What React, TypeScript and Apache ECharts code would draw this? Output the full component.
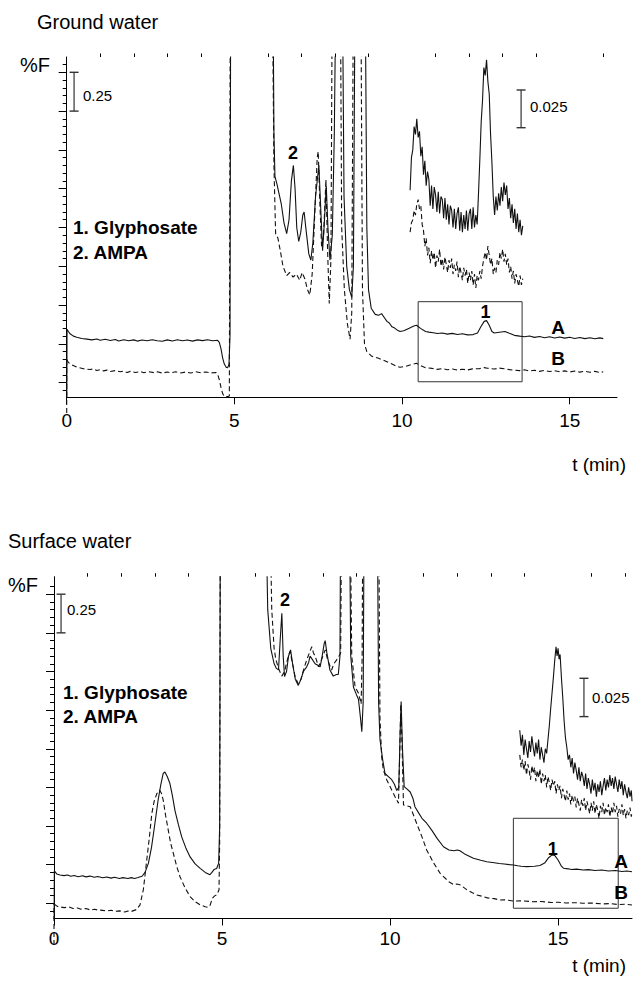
import React, { useEffect, useRef } from "react";
import * as echarts from "echarts";

const FONT = '"Liberation Sans", Arial, Helvetica, sans-serif';

// ---------- tick values ----------
const xMajorTicks = [0, 5, 10, 15];
const xMinorTicksTop = [1, 2, 3, 4, 6, 7, 8, 9, 11, 12, 13, 14, 16];
const xMinorTicksBottom = [1, 2, 3, 4, 6, 7, 8, 9, 11, 12, 13, 14, 16, 17];
const yMajorTicks = [0, 0.25, 0.5, 0.75, 1.0, 1.25, 1.5, 1.75, 2.0];
const yMinorTicks = [
  -0.05, 0.05, 0.1, 0.15, 0.2, 0.3, 0.35, 0.4, 0.45, 0.55, 0.6, 0.65, 0.7,
  0.8, 0.85, 0.9, 0.95, 1.05, 1.1, 1.15, 1.2, 1.3, 1.35, 1.4, 1.45, 1.55,
  1.6, 1.65, 1.7, 1.8, 1.85, 1.9, 1.95, 2.05,
];

// ---------- Ground water (top) ----------
const gwA: [number, number][] = [
  [0, -0.3], [0.01, 0.345], [0.05, 0.33], [0.1, 0.315], [0.2, 0.3], [0.3, 0.293], [0.45, 0.285],
  [0.6, 0.281], [0.75, 0.276], [0.9, 0.282], [1.0, 0.274], [1.15, 0.28], [1.3, 0.272], [1.45, 0.278],
  [1.55, 0.269], [1.7, 0.277], [1.85, 0.27], [2.0, 0.276], [2.1, 0.268], [2.25, 0.275], [2.4, 0.27],
  [2.55, 0.277], [2.7, 0.27], [2.85, 0.267], [3.0, 0.276], [3.15, 0.269], [3.3, 0.277], [3.45, 0.27],
  [3.6, 0.275], [3.75, 0.268], [3.9, 0.276], [4.05, 0.271], [4.2, 0.277], [4.35, 0.27], [4.5, 0.273],
  [4.55, 0.26], [4.6, 0.22], [4.65, 0.16], [4.7, 0.12], [4.76, 0.098], [4.8, 0.097], [4.84, 0.12],
  [4.87, 0.3], [4.89, 2.6], [6.15, 2.6], [6.18, 1.6], [6.21, 1.33], [6.27, 1.28], [6.33, 1.22],
  [6.4, 1.15], [6.48, 1.03], [6.56, 0.96], [6.63, 1.05], [6.7, 1.3], [6.76, 1.4], [6.81, 1.25],
  [6.86, 1.0], [6.92, 0.91], [6.98, 0.97], [7.04, 1.08], [7.08, 1.1], [7.14, 0.98], [7.22, 0.83],
  [7.28, 0.79], [7.34, 0.9], [7.42, 1.2], [7.52, 1.4], [7.57, 1.15], [7.63, 0.85], [7.68, 1.02],
  [7.74, 1.27], [7.79, 1.0], [7.85, 0.79], [7.92, 0.95], [7.98, 1.6], [8.03, 2.6], [8.22, 2.6],
  [8.27, 1.2], [8.35, 0.75], [8.43, 0.6], [8.5, 0.55], [8.55, 0.75], [8.6, 2.6], [8.9, 2.6],
  [8.95, 1.0], [9.0, 0.6], [9.08, 0.48], [9.2, 0.44], [9.3, 0.435], [9.39, 0.445], [9.47, 0.42],
  [9.55, 0.395], [9.62, 0.385], [9.7, 0.36], [9.78, 0.352], [9.85, 0.34], [9.94, 0.33], [10.05, 0.335],
  [10.2, 0.35], [10.35, 0.365], [10.43, 0.37], [10.55, 0.35], [10.7, 0.33], [10.8, 0.326],
  [10.93, 0.322], [11.05, 0.317], [11.2, 0.32], [11.35, 0.313], [11.5, 0.318], [11.65, 0.311],
  [11.8, 0.315], [11.95, 0.308], [12.12, 0.31], [12.25, 0.32], [12.35, 0.36], [12.45, 0.395],
  [12.52, 0.4], [12.6, 0.37], [12.68, 0.33], [12.75, 0.32], [12.9, 0.325], [13.07, 0.33],
  [13.2, 0.318], [13.35, 0.305], [13.51, 0.3], [13.65, 0.296], [13.8, 0.301], [13.95, 0.292],
  [14.1, 0.298], [14.25, 0.29], [14.4, 0.296], [14.55, 0.288], [14.7, 0.294], [14.85, 0.287],
  [15.0, 0.293], [15.15, 0.285], [15.3, 0.291], [15.45, 0.284], [15.6, 0.29], [15.75, 0.283],
  [15.9, 0.289], [16.0, 0.284],
];
const gwBStart: [number, number][] = [[0, -0.195], [0, 0.15]];
const gwB: [number, number][] = [
  [0, 0.15], [0.05, 0.13], [0.15, 0.115], [0.3, 0.1], [0.5, 0.09], [0.7, 0.085], [0.8, 0.089],
  [0.9, 0.078], [1.0, 0.084], [1.1, 0.076], [1.2, 0.081], [1.3, 0.072], [1.45, 0.078], [1.6, 0.07],
  [1.7, 0.075], [1.8, 0.066], [1.9, 0.073], [2.05, 0.066], [2.2, 0.072], [2.3, 0.064], [2.45, 0.071],
  [2.6, 0.065], [2.7, 0.07], [2.85, 0.062], [3.0, 0.069], [3.1, 0.064], [3.25, 0.07], [3.4, 0.063],
  [3.55, 0.069], [3.7, 0.062], [3.85, 0.07], [4.0, 0.064], [4.15, 0.069], [4.3, 0.063], [4.45, 0.066],
  [4.5, 0.055], [4.55, 0.02], [4.6, -0.03], [4.65, -0.07], [4.7, -0.088], [4.8, -0.09], [4.85, -0.085],
  [4.88, 2.6], [6.13, 2.6], [6.18, 1.4], [6.23, 0.96], [6.3, 0.93], [6.37, 0.85], [6.45, 0.75],
  [6.56, 0.69], [6.65, 0.71], [6.75, 0.68], [6.85, 0.7], [6.95, 0.66], [7.02, 0.71], [7.1, 0.67],
  [7.18, 0.6], [7.25, 0.565], [7.32, 0.7], [7.4, 1.1], [7.47, 1.45], [7.5, 1.49], [7.55, 1.15],
  [7.6, 0.88], [7.66, 0.95], [7.73, 1.31], [7.78, 0.85], [7.83, 0.51], [7.88, 0.8], [7.92, 2.6],
  [8.16, 2.6], [8.2, 1.0], [8.28, 0.6], [8.37, 0.38], [8.45, 0.28], [8.5, 0.45], [8.55, 2.6],
  [8.77, 2.6], [8.82, 0.6], [8.88, 0.25], [8.95, 0.2], [9.1, 0.17], [9.3, 0.157], [9.5, 0.14],
  [9.7, 0.12], [9.85, 0.105], [9.94, 0.1], [10.1, 0.105], [10.3, 0.118], [10.43, 0.125], [10.55, 0.11],
  [10.7, 0.097], [10.9, 0.092], [11.05, 0.086], [11.2, 0.091], [11.35, 0.083], [11.5, 0.088],
  [11.65, 0.081], [11.8, 0.087], [11.95, 0.082], [12.1, 0.089], [12.3, 0.09], [12.45, 0.097],
  [12.55, 0.093], [12.75, 0.088], [12.9, 0.094], [13.05, 0.09], [13.2, 0.084], [13.35, 0.081],
  [13.5, 0.078], [13.65, 0.083], [13.8, 0.075], [13.95, 0.08], [14.1, 0.073], [14.25, 0.079],
  [14.4, 0.072], [14.55, 0.077], [14.7, 0.07], [14.85, 0.076], [15.0, 0.069], [15.15, 0.075],
  [15.3, 0.068], [15.45, 0.074], [15.6, 0.067], [15.75, 0.073], [15.9, 0.066], [16.0, 0.07],
];
// enlarged (x10) traces of the boxed region, drawn above the chromatogram
const gwInsetA: [number, number][] = [
  [10.24, 1.24], [10.28, 1.45], [10.32, 1.5], [10.36, 1.65], [10.4, 1.6], [10.44, 1.7], [10.48, 1.58],
  [10.52, 1.62], [10.56, 1.46], [10.6, 1.52], [10.64, 1.34], [10.68, 1.43], [10.72, 1.27], [10.76, 1.36],
  [10.8, 1.31], [10.84, 1.14], [10.88, 1.27], [10.92, 1.12], [10.96, 1.26], [11.0, 1.21], [11.04, 1.1],
  [11.08, 1.23], [11.12, 1.09], [11.16, 1.2], [11.2, 1.18], [11.24, 1.06], [11.28, 1.19], [11.32, 1.05],
  [11.36, 1.15], [11.4, 1.02], [11.44, 1.14], [11.48, 1.11], [11.52, 1.0], [11.56, 1.12], [11.6, 0.99],
  [11.64, 1.09], [11.68, 1.13], [11.72, 0.98], [11.76, 1.1], [11.8, 0.97], [11.84, 1.08], [11.88, 0.99],
  [11.92, 1.11], [11.96, 0.98], [12.0, 1.09], [12.04, 1.12], [12.08, 0.99], [12.12, 1.13], [12.16, 1.0],
  [12.2, 1.08], [12.24, 1.02], [12.28, 1.22], [12.32, 1.44], [12.36, 1.68], [12.4, 1.82], [12.44, 2.03],
  [12.48, 1.98], [12.52, 2.08], [12.56, 1.94], [12.6, 1.86], [12.64, 1.6], [12.68, 1.42], [12.72, 1.2],
  [12.76, 1.08], [12.8, 1.2], [12.84, 1.11], [12.88, 1.22], [12.92, 1.14], [12.96, 1.26], [13.0, 1.17],
  [13.04, 1.29], [13.08, 1.21], [13.12, 1.27], [13.16, 1.12], [13.2, 1.19], [13.24, 1.06], [13.28, 1.15],
  [13.32, 1.03], [13.36, 1.12], [13.4, 0.99], [13.44, 1.09], [13.48, 0.97], [13.52, 1.05], [13.56, 0.95],
  [13.6, 1.01],
];
const gwInsetB: [number, number][] = [
  [10.24, 0.97], [10.28, 1.03], [10.32, 1.05], [10.36, 1.11], [10.4, 1.08], [10.44, 1.15], [10.48, 1.18],
  [10.52, 1.12], [10.56, 1.14], [10.6, 1.02], [10.64, 0.98], [10.68, 0.88], [10.72, 0.93], [10.76, 0.82],
  [10.8, 0.87], [10.84, 0.77], [10.88, 0.85], [10.92, 0.79], [10.96, 0.84], [11.0, 0.74], [11.04, 0.82],
  [11.08, 0.78], [11.12, 0.86], [11.16, 0.75], [11.2, 0.8], [11.24, 0.73], [11.28, 0.81], [11.32, 0.76],
  [11.36, 0.71], [11.4, 0.79], [11.44, 0.74], [11.48, 0.8], [11.52, 0.7], [11.56, 0.76], [11.6, 0.72],
  [11.64, 0.78], [11.68, 0.68], [11.72, 0.75], [11.76, 0.71], [11.8, 0.66], [11.84, 0.74], [11.88, 0.69],
  [11.92, 0.73], [11.96, 0.64], [12.0, 0.71], [12.04, 0.66], [12.08, 0.72], [12.12, 0.63], [12.16, 0.7],
  [12.2, 0.61], [12.24, 0.69], [12.28, 0.66], [12.32, 0.72], [12.36, 0.67], [12.4, 0.75], [12.44, 0.8],
  [12.48, 0.84], [12.52, 0.79], [12.56, 0.88], [12.6, 0.82], [12.64, 0.76], [12.68, 0.8], [12.72, 0.7],
  [12.76, 0.74], [12.8, 0.71], [12.84, 0.79], [12.88, 0.76], [12.92, 0.84], [12.96, 0.8], [13.0, 0.86],
  [13.04, 0.78], [13.08, 0.83], [13.12, 0.76], [13.16, 0.8], [13.2, 0.71], [13.24, 0.75], [13.28, 0.67],
  [13.32, 0.72], [13.36, 0.64], [13.4, 0.7], [13.44, 0.66], [13.48, 0.62], [13.52, 0.69], [13.56, 0.63],
  [13.6, 0.67],
];

// ---------- Surface water (bottom) ----------
const swA: [number, number][] = [
  [0, -0.3], [0.01, 0.21], [0.08, 0.19], [0.18, 0.183], [0.3, 0.179], [0.4, 0.183], [0.5, 0.175],
  [0.6, 0.18], [0.72, 0.172], [0.85, 0.178], [0.95, 0.171], [1.07, 0.176], [1.2, 0.168], [1.3, 0.173],
  [1.45, 0.165], [1.57, 0.17], [1.7, 0.163], [1.8, 0.169], [1.95, 0.161], [2.05, 0.166], [2.2, 0.16],
  [2.3, 0.166], [2.4, 0.161], [2.5, 0.167], [2.62, 0.175], [2.71, 0.2], [2.81, 0.26], [2.9, 0.36],
  [2.96, 0.45], [3.03, 0.56], [3.1, 0.67], [3.18, 0.77], [3.25, 0.84], [3.3, 0.85], [3.37, 0.82],
  [3.45, 0.775], [3.52, 0.7], [3.6, 0.6], [3.7, 0.51], [3.8, 0.43], [3.92, 0.36], [4.05, 0.3],
  [4.2, 0.255], [4.35, 0.226], [4.5, 0.2], [4.64, 0.185], [4.7, 0.2], [4.76, 0.218], [4.84, 0.225],
  [4.9, 0.26], [4.93, 0.5], [4.95, 2.6], [6.3, 2.6], [6.36, 1.9], [6.45, 1.65], [6.55, 1.55],
  [6.62, 1.52], [6.68, 1.51], [6.73, 1.7], [6.78, 1.877], [6.82, 1.6], [6.86, 1.467], [6.92, 1.5],
  [6.98, 1.6], [7.04, 1.64], [7.1, 1.55], [7.18, 1.45], [7.27, 1.41], [7.35, 1.45], [7.42, 1.5],
  [7.52, 1.53], [7.58, 1.56], [7.62, 1.6], [7.68, 1.58], [7.77, 1.55], [7.85, 1.54], [7.92, 1.53],
  [7.98, 1.6], [8.04, 1.68], [8.07, 1.7], [8.12, 1.62], [8.21, 1.51], [8.31, 1.47], [8.4, 1.48],
  [8.46, 1.48], [8.51, 1.6], [8.53, 2.6], [8.79, 2.6], [8.83, 1.6], [8.91, 1.4], [9.0, 1.35],
  [9.06, 1.32], [9.12, 1.2], [9.16, 1.11], [9.2, 1.3], [9.23, 2.6], [9.62, 2.6], [9.66, 1.3],
  [9.7, 1.06], [9.78, 0.93], [9.85, 0.84], [9.95, 0.82], [10.05, 0.8], [10.13, 0.77], [10.2, 0.73],
  [10.26, 0.75], [10.3, 1.1], [10.33, 1.305], [10.37, 1.0], [10.42, 0.755], [10.5, 0.74], [10.6, 0.72],
  [10.68, 0.68], [10.74, 0.625], [10.85, 0.585], [10.95, 0.55], [11.09, 0.518], [11.25, 0.47],
  [11.4, 0.42], [11.59, 0.366], [11.75, 0.345], [11.9, 0.34], [12.0, 0.345], [12.08, 0.34],
  [12.25, 0.315], [12.48, 0.291], [12.7, 0.278], [12.88, 0.269], [13.1, 0.262], [13.25, 0.257],
  [13.4, 0.254], [13.55, 0.25], [13.67, 0.248], [13.8, 0.243], [13.9, 0.24], [14.07, 0.237],
  [14.3, 0.24], [14.46, 0.245], [14.6, 0.26], [14.72, 0.295], [14.82, 0.313], [14.9, 0.31],
  [15.0, 0.28], [15.1, 0.24], [15.16, 0.227], [15.3, 0.223], [15.4, 0.219], [15.55, 0.221],
  [15.75, 0.215], [15.9, 0.218], [16.1, 0.212], [16.3, 0.215], [16.5, 0.209], [16.7, 0.212],
  [16.9, 0.206], [17.05, 0.209], [17.2, 0.204],
];
const swBStart: [number, number][] = [[0, -0.27], [0, -0.005]];
const swB: [number, number][] = [
  [0, -0.005], [0.1, -0.02], [0.3, -0.028], [0.45, -0.024], [0.57, -0.034], [0.7, -0.03], [0.8, -0.038],
  [0.95, -0.034], [1.1, -0.044], [1.2, -0.039], [1.3, -0.043], [1.45, -0.046], [1.57, -0.05], [1.7, -0.045],
  [1.8, -0.052], [1.95, -0.049], [2.11, -0.056], [2.2, -0.05], [2.3, -0.053], [2.46, -0.04],
  [2.56, -0.01], [2.66, 0.09], [2.76, 0.28], [2.84, 0.43], [2.91, 0.58], [2.98, 0.66], [3.06, 0.71],
  [3.14, 0.733], [3.2, 0.71], [3.25, 0.668], [3.32, 0.57], [3.4, 0.474], [3.47, 0.39], [3.55, 0.324],
  [3.65, 0.24], [3.75, 0.172], [3.9, 0.1], [4.05, 0.043], [4.2, 0.01], [4.35, -0.01], [4.5, -0.022],
  [4.59, -0.026], [4.65, -0.01], [4.71, 0.032], [4.78, 0.048], [4.84, 0.054], [4.91, 0.086],
  [4.93, 0.4], [4.95, 2.6], [6.42, 2.6], [6.48, 1.9], [6.55, 1.65], [6.6, 1.58], [6.68, 1.52],
  [6.78, 1.47], [6.86, 1.5], [6.95, 1.58], [7.02, 1.63], [7.1, 1.55], [7.18, 1.46], [7.27, 1.42],
  [7.35, 1.45], [7.44, 1.52], [7.52, 1.575], [7.6, 1.62], [7.67, 1.66], [7.72, 1.62], [7.77, 1.6],
  [7.83, 1.56], [7.87, 1.53], [7.95, 1.57], [8.07, 1.64], [8.15, 1.57], [8.26, 1.51], [8.33, 1.55],
  [8.41, 1.575], [8.48, 1.6], [8.53, 1.62], [8.56, 2.6], [8.81, 2.6], [8.86, 1.6], [8.96, 1.4],
  [9.06, 1.36], [9.14, 1.29], [9.17, 1.6], [9.19, 2.6], [9.66, 2.6], [9.7, 1.2], [9.75, 0.95],
  [9.8, 0.863], [9.9, 0.8], [10.0, 0.755], [10.1, 0.71], [10.2, 0.668], [10.25, 0.647], [10.28, 0.9],
  [10.32, 1.29], [10.36, 1.0], [10.4, 0.636], [10.5, 0.63], [10.6, 0.625], [10.7, 0.57], [10.79, 0.518],
  [10.95, 0.43], [11.09, 0.345], [11.3, 0.26], [11.49, 0.194], [11.75, 0.14], [11.9, 0.12],
  [11.99, 0.125], [12.1, 0.118], [12.3, 0.085], [12.45, 0.068], [12.58, 0.054], [12.75, 0.045],
  [12.9, 0.035], [13.1, 0.03], [13.27, 0.021], [13.45, 0.022], [13.7, 0.014], [13.95, 0.016],
  [14.26, 0.01], [14.5, 0.012], [14.8, 0.005], [15.0, 0.007], [15.25, 0.002], [15.5, 0.004],
  [15.75, 0.0], [16.0, 0.002], [16.3, -0.004], [16.55, -0.002], [16.8, -0.008], [17.0, -0.006],
  [17.2, -0.011],
];
const swInsetA: [number, number][] = [
  [13.86, 1.12], [13.9, 1.02], [13.94, 1.09], [13.98, 0.96], [14.02, 1.06], [14.06, 1.0], [14.1, 0.94],
  [14.14, 1.05], [14.18, 0.98], [14.22, 1.08], [14.26, 1.01], [14.3, 0.95], [14.34, 1.04], [14.38, 0.97],
  [14.42, 1.06], [14.46, 0.93], [14.5, 1.01], [14.54, 0.96], [14.58, 0.91], [14.62, 1.0], [14.66, 0.97],
  [14.7, 1.06], [14.74, 1.15], [14.78, 1.26], [14.82, 1.36], [14.86, 1.46], [14.9, 1.57], [14.94, 1.66],
  [14.97, 1.6], [15.0, 1.65], [15.03, 1.58], [15.06, 1.61], [15.1, 1.46], [15.14, 1.33], [15.18, 1.18],
  [15.22, 1.07], [15.26, 1.01], [15.3, 0.93], [15.34, 0.96], [15.38, 0.88], [15.42, 0.94], [15.46, 0.84],
  [15.5, 0.91], [15.54, 0.86], [15.58, 0.8], [15.62, 0.88], [15.66, 0.79], [15.7, 0.85], [15.74, 0.82],
  [15.78, 0.76], [15.82, 0.84], [15.86, 0.74], [15.9, 0.81], [15.94, 0.77], [15.98, 0.71], [16.02, 0.8],
  [16.06, 0.73], [16.1, 0.78], [16.14, 0.69], [16.18, 0.77], [16.22, 0.72], [16.26, 0.79], [16.3, 0.7],
  [16.34, 0.76], [16.38, 0.81], [16.42, 0.73], [16.46, 0.8], [16.5, 0.75], [16.54, 0.83], [16.58, 0.76],
  [16.62, 0.81], [16.66, 0.74], [16.7, 0.82], [16.74, 0.77], [16.78, 0.72], [16.82, 0.8], [16.86, 0.74],
  [16.9, 0.79], [16.94, 0.7], [16.98, 0.77], [17.02, 0.72], [17.06, 0.68], [17.1, 0.75], [17.14, 0.69],
  [17.18, 0.73], [17.2, 0.66],
];
const swInsetB: [number, number][] = [
  [13.86, 0.96], [13.9, 0.88], [13.94, 0.93], [13.98, 0.86], [14.02, 0.92], [14.06, 0.83], [14.1, 0.9],
  [14.14, 0.86], [14.18, 0.8], [14.22, 0.89], [14.26, 0.84], [14.3, 0.88], [14.34, 0.79], [14.38, 0.86],
  [14.42, 0.81], [14.46, 0.87], [14.5, 0.77], [14.54, 0.84], [14.58, 0.79], [14.62, 0.83], [14.66, 0.75],
  [14.7, 0.82], [14.74, 0.78], [14.78, 0.73], [14.82, 0.8], [14.86, 0.76], [14.9, 0.79], [14.94, 0.71],
  [14.98, 0.77], [15.02, 0.73], [15.06, 0.76], [15.1, 0.68], [15.14, 0.74], [15.18, 0.7], [15.22, 0.66],
  [15.26, 0.73], [15.3, 0.67], [15.34, 0.71], [15.38, 0.64], [15.42, 0.7], [15.46, 0.66], [15.5, 0.69],
  [15.54, 0.62], [15.58, 0.68], [15.62, 0.64], [15.66, 0.6], [15.7, 0.67], [15.74, 0.63], [15.78, 0.68],
  [15.82, 0.6], [15.86, 0.66], [15.9, 0.62], [15.94, 0.58], [15.98, 0.65], [16.02, 0.6], [16.06, 0.66],
  [16.1, 0.58], [16.14, 0.64], [16.18, 0.6], [16.22, 0.55], [16.26, 0.63], [16.3, 0.59], [16.34, 0.65],
  [16.38, 0.57], [16.42, 0.62], [16.46, 0.59], [16.5, 0.64], [16.54, 0.56], [16.58, 0.62], [16.62, 0.58],
  [16.66, 0.65], [16.7, 0.59], [16.74, 0.63], [16.78, 0.56], [16.82, 0.61], [16.86, 0.58], [16.9, 0.64],
  [16.94, 0.57], [16.98, 0.61], [17.02, 0.55], [17.06, 0.6], [17.1, 0.57], [17.14, 0.62], [17.18, 0.56],
  [17.2, 0.59],
];

// scale bars and zoom boxes (data coordinates)
const gwScaleBar: [number, number][] = [[0.22, 2.0], [0.22, 1.75]];
const gwInsetScaleBar: [number, number][] = [[13.55, 1.886], [13.55, 1.643]];
const swScaleBar: [number, number][] = [[0.21, 2.0], [0.21, 1.75]];
const swInsetScaleBar: [number, number][] = [[15.77, 1.456], [15.77, 1.208]];
const gwBox = [[10.48, 0.522], [13.58, 0.006]];
const swBox = [[13.67, 0.55], [16.79, -0.032]];

const INK = "#111";

function trace(data: [number, number][], axis: number, dashed: boolean, extra: any = {}) {
  return {
    type: "line",
    data,
    xAxisIndex: axis,
    yAxisIndex: axis,
    symbol: "none",
    showSymbol: false,
    clip: true,
    silent: true,
    animation: false,
    lineStyle: { color: INK, width: 1.1, type: dashed ? [5, 3] : "solid" },
    z: 3,
    ...extra,
  };
}

function scaleBar(data: [number, number][], axis: number) {
  return {
    type: "line",
    data,
    xAxisIndex: axis,
    yAxisIndex: axis,
    symbol: "rect",
    symbolSize: [9, 1.4],
    showSymbol: true,
    silent: true,
    animation: false,
    itemStyle: { color: "#333" },
    lineStyle: { color: "#333", width: 1.2 },
    z: 4,
  };
}

function boxArea(box: number[][]) {
  return {
    silent: true,
    itemStyle: { color: "rgba(0,0,0,0)", borderColor: "#333", borderWidth: 1 },
    data: [[{ coord: box[0] }, { coord: box[1] }]],
  };
}

function xAxes(grid: number, max: number, minor: number[], margin: number) {
  return [
    {
      type: "value", gridIndex: grid, min: 0, max,
      axisLine: { show: true, onZero: false, lineStyle: { color: "#000", width: 1 } },
      axisTick: { show: true, length: 7, inside: false, customValues: xMajorTicks, lineStyle: { color: "#000", width: 1 } },
      axisLabel: { show: true, customValues: xMajorTicks, fontSize: 19, color: "#000", fontFamily: FONT, margin },
      splitLine: { show: false },
    },
    {
      type: "value", gridIndex: grid, min: 0, max,
      axisLine: { show: false, onZero: false },
      axisTick: { show: true, length: 3.5, inside: false, customValues: minor, lineStyle: { color: "#000", width: 1 } },
      axisLabel: { show: false },
      splitLine: { show: false },
    },
  ];
}

function yAxes(grid: number, min: number, max: number) {
  return [
    {
      type: "value", gridIndex: grid, min, max, position: "left",
      axisLine: { show: true, onZero: false, lineStyle: { color: "#000", width: 1 } },
      axisTick: { show: true, length: 8, inside: false, customValues: yMajorTicks, lineStyle: { color: "#000", width: 1 } },
      axisLabel: { show: false },
      splitLine: { show: false },
    },
    {
      type: "value", gridIndex: grid, min, max, position: "left",
      axisLine: { show: false, onZero: false },
      axisTick: { show: true, length: 4, inside: false, customValues: yMinorTicks, lineStyle: { color: "#000", width: 1 } },
      axisLabel: { show: false },
      splitLine: { show: false },
    },
  ];
}

function txt(text: string, x: number, y: number, size: number, opts: any = {}) {
  return {
    type: "text",
    x,
    y,
    silent: true,
    z: 10,
    style: {
      text,
      fill: "#000",
      fontSize: size,
      fontFamily: FONT,
      fontWeight: opts.bold ? "bold" : "normal",
      align: opts.align || "left",
      textAlign: opts.align || "left",
      verticalAlign: "middle",
      textVerticalAlign: "middle",
    },
  };
}

export default function App() {
  const ref = useRef<HTMLDivElement>(null);
  useEffect(() => {
    if (!ref.current) return;
    const chart = echarts.init(ref.current, null, { renderer: "svg" });
    const option: any = {
      animation: false,
      backgroundColor: "#fff",
      grid: [
        { left: 66.7, top: 57, width: 550.3, height: 340.3 },
        { left: 54, top: 576.7, width: 578, height: 341.8 },
      ],
      xAxis: [...xAxes(0, 16.41, xMinorTicksTop, 14), ...xAxes(1, 17.2, xMinorTicksBottom, 10)],
      yAxis: [...yAxes(0, -0.0941, 2.0986), ...yAxes(1, -0.0984, 2.1133)],
      series: [
        trace(gwA, 0, false, { markArea: boxArea(gwBox) }),
        trace(gwBStart, 0, true, { clip: false }),
        trace(gwB, 0, true),
        trace(gwInsetA, 0, false),
        trace(gwInsetB, 0, true),
        scaleBar(gwScaleBar, 0),
        scaleBar(gwInsetScaleBar, 0),
        trace(swA, 2, false, { markArea: boxArea(swBox) }),
        trace(swBStart, 2, true, { clip: false }),
        trace(swB, 2, true),
        trace(swInsetA, 2, false),
        trace(swInsetB, 2, true),
        scaleBar(swScaleBar, 2),
        scaleBar(swInsetScaleBar, 2),
      ],
      graphic: [
        // top panel
        txt("Ground water", 37, 22, 20),
        txt("%F", 20, 65, 20),
        txt("0.25", 83, 95, 15),
        txt("1. Glyphosate", 73, 227, 19, { bold: true }),
        txt("2. AMPA", 73, 252, 19, { bold: true }),
        txt("2", 293, 153, 18, { bold: true, align: "center" }),
        txt("1", 485.5, 312, 18, { bold: true, align: "center" }),
        txt("A", 558, 327, 19, { bold: true, align: "center" }),
        txt("B", 558, 358, 19, { bold: true, align: "center" }),
        txt("0.025", 530, 106, 15),
        txt("t (min)", 626, 464, 19, { align: "right" }),
        // bottom panel
        txt("Surface water", 8, 541, 20),
        txt("%F", 8, 585, 20),
        txt("0.25", 67, 609, 15),
        txt("1. Glyphosate", 63, 692, 19, { bold: true }),
        txt("2. AMPA", 63, 716, 19, { bold: true }),
        txt("2", 285, 600, 18, { bold: true, align: "center" }),
        txt("1", 552.7, 849, 18, { bold: true, align: "center" }),
        txt("A", 621, 861, 19, { bold: true, align: "center" }),
        txt("B", 621, 892, 19, { bold: true, align: "center" }),
        txt("0.025", 592, 697, 15),
        txt("t (min)", 626, 965, 19, { align: "right" }),
      ],
    };
    chart.setOption(option);
    return () => chart.dispose();
  }, []);
  return (
    <div
      ref={ref}
      style={{ position: "fixed", left: 0, top: 0, width: 634, height: 985, background: "#fff" }}
    />
  );
}
